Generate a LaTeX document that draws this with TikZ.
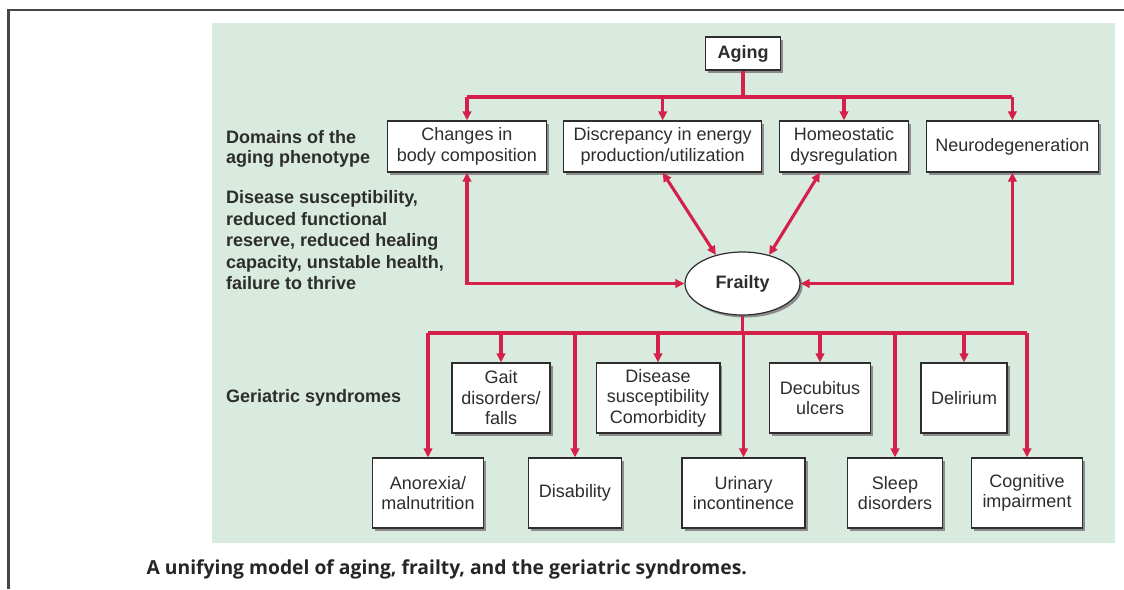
\documentclass[tikz,border=0pt]{standalone}
\usepackage{fontspec}
\setmainfont{Liberation Sans}
\newfontfamily\capfont{Open Sans}
\usetikzlibrary{arrows.meta,shadows,shapes.geometric}
\definecolor{panelclr}{RGB}{217,234,222}
\definecolor{linkclr}{RGB}{212,32,74}
\definecolor{inkclr}{RGB}{45,45,45}
\definecolor{frameclr}{RGB}{70,70,70}
\tikzset{
  box/.style={draw=inkclr, line width=1.2pt, fill=white, align=center, inner sep=0pt,
    text=inkclr, font=\fontsize{18}{20.5}\selectfont,
    drop shadow={shadow xshift=2.5pt, shadow yshift=-2.5pt, fill=black!45, opacity=1}},
  boldbox/.style={box, font=\bfseries\fontsize{18}{20.5}\selectfont},
  wire/.style={draw=linkclr, line width=3.1pt},
  tip/.style={-{Triangle[length=9pt,width=8.5pt]}},
  dtip/.style={{Triangle[length=9pt,width=8.5pt]}-{Triangle[length=9pt,width=8.5pt]}},
  lbl/.style={anchor=north west, inner sep=0pt, align=left, text=inkclr,
    font=\bfseries\fontsize{18}{21.5}\selectfont},
}
\begin{document}
\begin{tikzpicture}[x=1pt,y=-1pt]
\useasboundingbox (0,0) rectangle (1124,589);
\fill[white] (0,0) rectangle (1124,589);
\fill[panelclr] (212,23) rectangle (1115,543);
\draw[frameclr, line width=2.8pt] (8.6,589) -- (8.6,10) -- (1124,10);

% top
\node[boldbox, minimum width=75.4pt, minimum height=33pt] (aging) at (743,53.5) {Aging};
\node[box, minimum width=159pt, minimum height=51pt] (changes) at (467,146.5) {Changes in\\body composition};
\node[box, minimum width=198pt, minimum height=51pt] (disc) at (662.7,146.5) {Discrepancy in energy\\production/utilization};
\node[box, minimum width=128.6pt, minimum height=51pt] (homeo) at (844,146.5) {Homeostatic\\dysregulation};
\node[box, minimum width=172.4pt, minimum height=51pt] (neuro) at (1012.4,146.5) {Neurodegeneration};

\node[ellipse, draw=inkclr, line width=1.2pt, fill=white, inner sep=0pt, text=inkclr,
  font=\bfseries\fontsize{18}{20.5}\selectfont, minimum width=115pt, minimum height=63pt,
  drop shadow={shadow xshift=2.5pt, shadow yshift=-2.5pt, fill=black!45, opacity=1}]
  (frailty) at (742.5,283.5) {Frailty};

% syndromes
\node[box, minimum width=98pt, minimum height=70pt] (gait) at (501,398) {Gait\\disorders/\\falls};
\node[box, minimum width=123.8pt, minimum height=70pt] (dsus) at (658,398) {Disease\\susceptibility\\Comorbidity};
\node[box, minimum width=101.6pt, minimum height=70pt] (decub) at (820,398) {Decubitus\\ulcers};
\node[box, minimum width=86.1pt, minimum height=70pt] (delir) at (964,398) {Delirium};

\node[box, minimum width=111.5pt, minimum height=70pt] (anorex) at (428,493) {Anorexia/\\malnutrition};
\node[box, minimum width=92.4pt, minimum height=70pt] (disab) at (575,493) {Disability};
\node[box, minimum width=123pt, minimum height=70pt] (urin) at (743.5,493) {Urinary\\incontinence};
\node[box, minimum width=94.4pt, minimum height=70pt] (sleep) at (895,493) {Sleep\\disorders};
\node[box, minimum width=110.6pt, minimum height=70pt] (cogn) at (1027,493) {Cognitive\\impairment};

% labels
\node[lbl, font=\bfseries\fontsize{18}{20}\selectfont] (dom) at (226,130.5) {Domains of the\\aging phenotype};
\node[lbl] (dis) at (226,190.5) {Disease susceptibility,\\reduced functional\\reserve, reduced healing\\capacity, unstable health,\\failure to thrive};
\node[lbl] (ger) at (226,389.5) {Geriatric syndromes};

\node[anchor=north west, inner sep=0pt, text=black!85,
  font=\capfont\bfseries\fontsize{19.3}{22}\selectfont] (cap) at (146.4,559.5)
  {A unifying model of aging, frailty, and the geriatric syndromes.};

% connectors top
\coordinate (tb) at (743,97);
\draw[wire] (aging.south) -- (tb);
\draw[wire] (changes.north |- tb) -- (neuro.north |- tb);
\foreach \n in {changes,disc,homeo,neuro}
  \draw[wire,tip] (\n.north |- tb) -- (\n.north);

\draw[wire,dtip] (changes.south) |- (frailty.west);
\draw[wire,dtip] (neuro.south) |- (frailty.east);
\draw[wire,dtip] (disc.south) -- (frailty.133);
\draw[wire,dtip] ([xshift=-24pt]homeo.south) -- (frailty.47);

% connectors bottom
\coordinate (bb) at (743,333);
\draw[wire] (frailty.south) -- (frailty.south |- bb);
\draw[wire] (anorex.north |- bb) -- (cogn.north |- bb);
\foreach \n in {gait,dsus,decub,delir,anorex,disab,urin,sleep,cogn}
  \draw[wire,tip] (\n.north |- bb) -- (\n.north);
\end{tikzpicture}
\end{document}
